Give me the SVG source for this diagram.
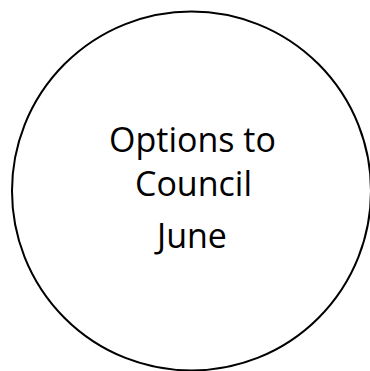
<svg xmlns="http://www.w3.org/2000/svg" width="370" height="371" viewBox="0 0 370 371">
<style>
.node{fill:#fff;stroke:#000;stroke-width:2}
.lbl{font-family:"Open Sans",Lato,sans-serif;font-size:34px;fill:#000;text-anchor:middle}
</style>
<rect width="370" height="371" fill="#fff"/>
<g id="connectors"></g>
<g id="options-node">
<circle class="node" cx="191.5" cy="191" r="179.5"/>
<text class="lbl" x="192.5" y="152">Options to</text>
<text class="lbl" x="193.5" y="196">Council</text>
<text class="lbl" x="192" y="248">June</text>
</g>
</svg>
